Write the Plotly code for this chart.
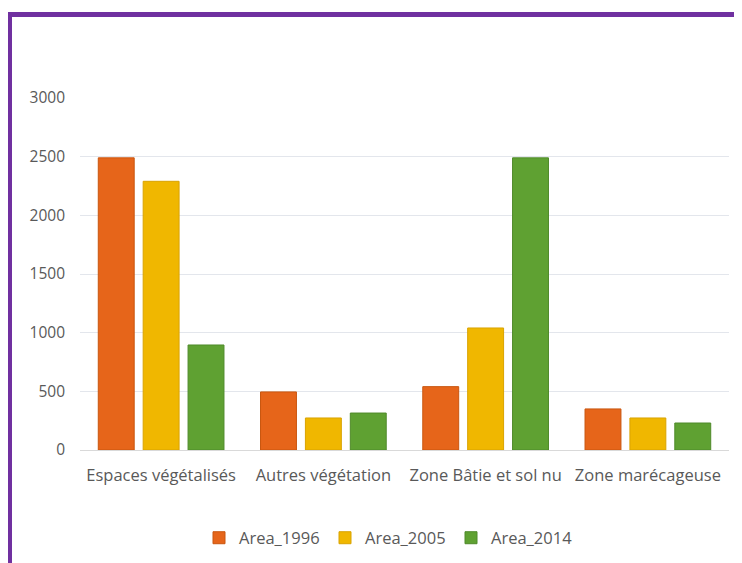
import plotly.graph_objects as go

categories = ["Espaces végétalisés", "Autres végétation", "Zone Bâtie et sol nu", "Zone marécageuse"]
area_1996 = [2490, 495, 540, 350]
area_2005 = [2290, 273, 1040, 273]
area_2014 = [895, 315, 2490, 230]
y_ticks = [0, 500, 1000, 1500, 2000, 2500, 3000]

series = [
    ("Area_1996", area_1996, "#E6651A", "#C9560F"),
    ("Area_2005", area_2005, "#F0B700", "#D9A300"),
    ("Area_2014", area_2014, "#5FA132", "#4F8A2A"),
]

fig = go.Figure()
for name, vals, col, line in series:
    fig.add_trace(go.Bar(
        name=name, x=categories, y=vals,
        marker=dict(color=col, line=dict(color=line, width=1)),
    ))

# page body adds an 8px offset; compensate
OFF = 8
W, H = 742, 563
L, R, T, B = 80 - OFF, 13 + OFF, 98 - OFF, 113 + OFF
pw, ph = W - L - R, H - T - B

def px_x(p):
    return (p - OFF - L) / pw

def px_y(p):
    return (H - B - (p - OFF)) / ph

fig.add_shape(type="rect", xref="paper", yref="paper",
              x0=px_x(9.5), x1=px_x(900), y0=px_y(14.5), y1=px_y(900),
              line=dict(color="#7030A0", width=5), fillcolor="rgba(0,0,0,0)", layer="above")

fig.update_layout(
    width=W, height=H,
    margin=dict(l=L, r=R, t=T, b=B),
    paper_bgcolor="white", plot_bgcolor="white",
    barmode="group", bargap=0.17, bargroupgap=0.2,
    font=dict(family="Open Sans", size=14, color="#595959"),
    showlegend=True,
    legend=dict(orientation="h", x=px_x(199), xanchor="left", y=px_y(538), yanchor="middle",
                font=dict(size=16.5, color="#595959"), itemwidth=30, traceorder="normal",
                entrywidth=81, entrywidthmode="pixels"),
    xaxis=dict(showline=True, linecolor="#D9D9D9", linewidth=1, ticks="",
               tickfont=dict(size=16.5, color="#595959"), ticklabelstandoff=10),
    yaxis=dict(range=[0, 3000], tickvals=y_ticks, showgrid=True, gridcolor="#E3E6EC",
               gridwidth=1, zeroline=False, ticks="", showline=False,
               tickfont=dict(size=15.5, color="#595959"), ticklabelstandoff=14),
)

fig.write_html("out.html")
